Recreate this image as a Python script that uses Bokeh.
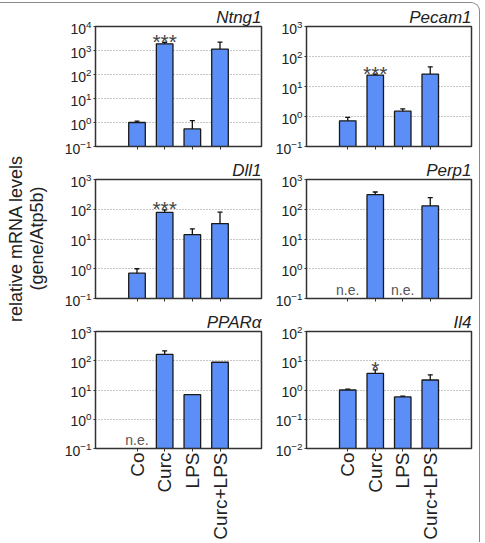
from math import pi

from bokeh.core.properties import value
from bokeh.embed import file_html
from bokeh.layouts import column, row
from bokeh.models import FactorRange, FixedTicker, InlineStyleSheet, Range1d
from bokeh.plotting import figure
from bokeh.resources import INLINE

# ---- data -------------------------------------------------------------
categories = ["Co", "Curc", "LPS", "Curc+LPS"]

ntng1 = [1.0, 1900, 0.54, 1150]
ntng1_upper = [1.15, 2200, 1.19, 2240]

pecam1 = [0.72, 24, 1.5, 26]
pecam1_upper = [0.94, 26, 1.8, 45]

dll1 = [0.71, 78, 14, 33]
dll1_upper = [1.0, 96, 22, 80]

perp1 = [None, 310, None, 130]
perp1_upper = [None, 380, None, 245]

ppara = [None, 165, 6.9, 89]
ppara_upper = [None, 218, 6.9, 89]

il4 = [1.0, 3.7, 0.58, 2.2]
il4_upper = [1.07, 4.9, 0.62, 3.3]

y_label_lines = ["relative mRNA levels", "(gene/Atp5b)"]

# ---- styling ----------------------------------------------------------
FONT = "Liberation Sans"
BAR_COLOR = "#5b8ef7"
EDGE = "#333333"
TOTAL_H = 542
LABEL_W = 50


def panel(title, vals, upper, lo, hi, width, height, borders,
          stars=None, not_expressed=(), show_labels=False):
    left, right, top, bottom = borders
    p = figure(
        width=width, height=height,
        x_range=FactorRange(factors=categories, range_padding=1.0,
                            range_padding_units="absolute"),
        y_range=Range1d(lo, hi), y_axis_type="log",
        output_backend="svg", toolbar_location=None,
        min_border_left=left, min_border_right=right,
        min_border_top=top, min_border_bottom=bottom,
        background_fill_color="white", border_fill_color="white",
    )
    p.outline_line_color = EDGE
    p.outline_line_width = 1.5
    p.outline_line_alpha = 1.0

    p.title.text = title
    p.title.align = "right"
    p.title.text_font = FONT
    p.title.text_font_style = "italic"
    p.title.text_font_size = "17px"
    p.title.text_color = "#222222"
    p.title.standoff = 0

    # decade ticks
    decades = []
    d = lo
    while d <= hi * 1.0001:
        decades.append(d)
        d *= 10
    p.yaxis.ticker = FixedTicker(ticks=decades)
    p.yaxis.minor_tick_line_color = None
    p.yaxis.major_tick_in = 0
    p.yaxis.major_tick_out = 2
    p.yaxis.major_label_standoff = 2
    p.yaxis.major_label_text_font = FONT
    p.yaxis.major_label_text_font_size = "14px"
    p.yaxis.major_label_text_color = "#222222"
    p.yaxis.axis_line_color = EDGE
    p.yaxis.major_tick_line_color = EDGE

    p.xaxis.major_tick_in = 0
    p.xaxis.major_tick_out = 3
    p.xaxis.axis_line_color = EDGE
    p.xaxis.major_tick_line_color = EDGE
    p.xaxis.major_label_text_font = FONT
    if show_labels:
        p.xaxis.major_label_orientation = pi / 2
        p.xaxis.major_label_text_font_size = "19px"
        p.xaxis.major_label_text_color = "#222222"
        p.xaxis.major_label_standoff = 1
    else:
        # category names only under the bottom row
        p.xaxis.major_label_text_font_size = "1px"
        p.xaxis.major_label_text_color = None
        p.xaxis.major_label_standoff = 0

    p.xgrid.grid_line_color = None
    p.ygrid.grid_line_color = "#8c8c8c"
    p.ygrid.grid_line_dash = "1 2"
    p.ygrid.grid_line_width = 1

    # bars
    bx = [c for c, v in zip(categories, vals) if v is not None]
    bv = [v for v in vals if v is not None]
    p.vbar(x=bx, top=bv, bottom=lo, width=0.6, fill_color=BAR_COLOR,
           line_color="#1a1a1a", line_width=1.3)

    # upward error bars
    keep = [i for i, (v, u) in enumerate(zip(vals, upper)) if v is not None and u > v]
    if keep:
        ex = [categories[i] for i in keep]
        ev = [vals[i] for i in keep]
        eu = [upper[i] for i in keep]
        p.segment(x0=ex, y0=ev, x1=ex, y1=eu, line_color="#111111", line_width=1.3)
        p.scatter(x=ex, y=eu, marker="dash", size=5, line_color="#111111",
                  line_width=1.3)

    if stars:
        cat, mark = stars
        i = categories.index(cat)
        p.text(x=[cat], y=[upper[i]], text=[mark], text_align="center",
               text_baseline="alphabetic", y_offset=-1,
               text_font=value(FONT), text_font_size="21px", text_color="#444444")

    if not_expressed:
        p.text(x=list(not_expressed), y=[lo] * len(not_expressed),
               text=["n.e."] * len(not_expressed), text_align="center",
               text_baseline="bottom", y_offset=-1,
               text_font=value(FONT), text_font_size="14px", text_color="#555555")
    return p


# shared vertical axis title, in a narrow strip to the left of the panels
label_fig = figure(width=LABEL_W, height=TOTAL_H, x_range=Range1d(0, LABEL_W),
                   y_range=Range1d(0, TOTAL_H), output_backend="svg",
                   toolbar_location=None, min_border=0)
label_fig.axis.visible = False
label_fig.grid.visible = False
label_fig.outline_line_color = None
label_fig.text(x=[15, 36], y=[TOTAL_H - 238, TOTAL_H - 238], text=y_label_lines,
               angle=pi / 2, text_align="center", text_baseline="middle",
               text_font=value(FONT), text_font_size="18px", text_color="#222222")

LW, RW = 220, 215
LB = (45, 9)
RB = (36, 14)
rows_spec = [(157, 26, 11), (152, 22, 11), (233, 22, 92)]

h, t, b = rows_spec[0]
p1 = panel("Ntng1", ntng1, ntng1_upper, 0.1, 1e4, LW, h, LB + (t, b), stars=("Curc", "***"))
p2 = panel("Pecam1", pecam1, pecam1_upper, 0.1, 1e3, RW, h, RB + (t, b), stars=("Curc", "***"))

h, t, b = rows_spec[1]
p3 = panel("Dll1", dll1, dll1_upper, 0.1, 1e3, LW, h, LB + (t, b), stars=("Curc", "***"))
p4 = panel("Perp1", perp1, perp1_upper, 0.1, 1e3, RW, h, RB + (t, b),
           not_expressed=("Co", "LPS"))

h, t, b = rows_spec[2]
p5 = panel("PPARα", ppara, ppara_upper, 0.1, 1e3, LW, h, LB + (t, b),
           not_expressed=("Co",), show_labels=True)
p6 = panel("Il4", il4, il4_upper, 0.01, 1e2, RW, h, RB + (t, b),
           stars=("Curc", "*"), show_labels=True)

frame_css = InlineStyleSheet(css="""
:host { position: relative; }
:host::after {
  content: ''; position: absolute; left: 0; top: 2px; right: 5px; bottom: 0;
  border-top: 1.5px solid #8a8a8a; border-right: 1.5px solid #8a8a8a;
  border-top-right-radius: 9px; pointer-events: none;
}
""")

panels = column(row(p1, p2), row(p3, p4), row(p5, p6))
layout = row(label_fig, panels, stylesheets=[frame_css])

with open("out.html", "w") as f:
    f.write(file_html(layout, INLINE))
